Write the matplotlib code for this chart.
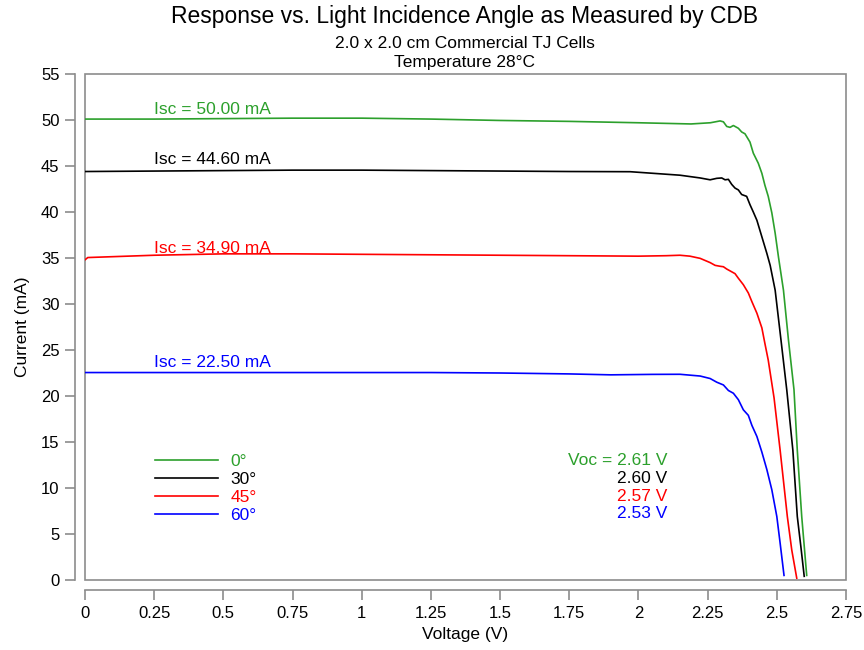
import matplotlib
matplotlib.use("Agg")
from matplotlib import pyplot as plt
from matplotlib.patches import Rectangle

plt.rcParams['font.family'] = ['Liberation Sans', 'DejaVu Sans']

# I-V curves (voltage in V, current in mA)
v_0 = [0, 0.25, 0.5, 0.75, 1.0, 1.25, 1.5, 1.75, 2.0, 2.19, 2.26, 2.295, 2.307,
       2.319, 2.331, 2.343, 2.361, 2.373, 2.385, 2.403, 2.415, 2.433, 2.446,
       2.457, 2.469, 2.482, 2.494, 2.506, 2.524, 2.542, 2.562, 2.574, 2.590, 2.608]
i_0 = [50.1, 50.1, 50.15, 50.2, 50.2, 50.1, 49.95, 49.85, 49.7, 49.57, 49.7, 49.9, 49.8,
       49.3, 49.2, 49.4, 49.1, 48.7, 48.5, 47.6, 46.4, 45.3, 44.2,
       42.9, 41.7, 39.9, 37.7, 35.1, 31.5, 26.1, 20.7, 14.1, 6.9, 0.5]

v_30 = [0, 0.25, 0.5, 0.75, 1.0, 1.25, 1.5, 1.75, 1.97, 2.15, 2.223, 2.259, 2.283,
        2.301, 2.313, 2.325, 2.337, 2.349, 2.361, 2.373, 2.391, 2.403, 2.415, 2.428,
        2.439, 2.451, 2.464, 2.476, 2.494, 2.515, 2.536, 2.558, 2.574, 2.587, 2.599]
i_30 = [44.4, 44.45, 44.5, 44.55, 44.55, 44.5, 44.45, 44.4, 44.38, 44.0, 43.7, 43.5, 43.66,
        43.7, 43.5, 43.55, 43.0, 42.6, 42.4, 41.9, 41.7, 40.8, 40.0, 39.1,
        38.0, 36.8, 35.5, 34.2, 31.5, 26.1, 20.65, 14.1, 6.9, 3.6, 0.4]

v_45 = [0, 0.01, 0.25, 0.5, 0.75, 1.0, 1.25, 1.5, 1.75, 2.0, 2.1, 2.15, 2.186, 2.223,
        2.259, 2.277, 2.295, 2.307, 2.319, 2.337, 2.349, 2.361, 2.379, 2.397, 2.410,
        2.428, 2.446, 2.457, 2.469, 2.490, 2.512, 2.538, 2.554, 2.572]
i_45 = [34.8, 35.05, 35.3, 35.45, 35.45, 35.4, 35.35, 35.3, 35.25, 35.2, 35.25, 35.3, 35.2, 34.96,
        34.5, 34.2, 34.1, 34.05, 33.8, 33.5, 33.3, 32.8, 32.1, 31.2, 30.25,
        29.0, 27.4, 25.7, 23.9, 19.8, 14.1, 6.9, 3.26, 0.2]

v_60 = [0, 0.25, 0.5, 0.75, 1.0, 1.25, 1.5, 1.75, 1.9, 2.05, 2.15, 2.223, 2.259, 2.283,
        2.307, 2.325, 2.343, 2.361, 2.379, 2.397, 2.410, 2.428, 2.446, 2.464, 2.482,
        2.500, 2.512, 2.526]
i_60 = [22.55, 22.55, 22.55, 22.55, 22.55, 22.55, 22.5, 22.4, 22.3, 22.35, 22.36, 22.17, 21.9, 21.5,
        21.2, 20.6, 20.3, 19.6, 18.5, 17.9, 16.8, 15.6, 13.9, 12.0, 9.8,
        6.9, 4.0, 0.5]

angles = ['0°', '30°', '45°', '60°']
isc = [50.00, 44.60, 34.90, 22.50]
voc = [2.61, 2.60, 2.57, 2.53]
colors = ['#2ca02c', 'black', 'red', 'blue']
curves = [(v_0, i_0), (v_30, i_30), (v_45, i_45), (v_60, i_60)]

gray = '#8c8c8c'

fig = plt.figure(figsize=(8.64, 6.5), dpi=100)
ax = fig.add_axes([85 / 864, 70 / 650, 761 / 864, 506 / 650])

for (v, i), ang, c in zip(curves, angles, colors):
    ax.plot(v, i, color=c, lw=1.2, label=ang)

for val, c in zip(isc, colors):
    ax.text(0.25, val + 1.12, f'Isc = {val:.2f} mA', color=c, fontsize=12.5,
            ha='left', va='center')

for k, (val, c) in enumerate(zip(voc, colors)):
    label = f'Voc = {val:.2f} V' if k == 0 else f'{val:.2f} V'
    ax.text(0.765, 0.237 - k * 0.0355, label, color=c, fontsize=12.5,
            ha='right', va='center', transform=ax.transAxes)

leg = ax.legend(loc='upper left', bbox_to_anchor=(0.092, 0.249), frameon=False,
                fontsize=12.5, handlelength=3.6, handletextpad=0.75,
                labelspacing=0.17, borderpad=0, borderaxespad=0,
                labelcolor='linecolor')

ax.set_xlim(0, 2.75)
ax.set_ylim(0, 55)
ax.set_xticks([0, 0.25, 0.5, 0.75, 1, 1.25, 1.5, 1.75, 2, 2.25, 2.5, 2.75])
ax.set_xticklabels(['0', '0.25', '0.5', '0.75', '1', '1.25', '1.5', '1.75',
                    '2', '2.25', '2.5', '2.75'])
ax.set_yticks(range(0, 56, 5))

# detached axes plus a box around the plotting area
for side in ['top', 'right']:
    ax.spines[side].set_visible(False)
for side in ['left', 'bottom']:
    ax.spines[side].set_position(('outward', 7.2))
    ax.spines[side].set_color(gray)
    ax.spines[side].set_linewidth(1.2)
ax.add_patch(Rectangle((0, 0), 1, 1, transform=ax.transAxes, fill=False,
                       edgecolor=gray, lw=1.2, clip_on=False))
ax.tick_params(direction='out', length=7.2, width=1.2, color=gray,
               labelsize=12, pad=4)

ax.set_xlabel('Voltage (V)', fontsize=12.5, labelpad=5)
ax.set_ylabel('Current (mA)', fontsize=12.5, labelpad=8)

fig.text(465 / 864, 1 - 17 / 650, 'Response vs. Light Incidence Angle as Measured by CDB',
         ha='center', va='center', fontsize=16.5)
fig.text(465 / 864, 1 - 43.5 / 650, '2.0 x 2.0 cm Commercial TJ Cells',
         ha='center', va='center', fontsize=12.5)
fig.text(465 / 864, 1 - 63 / 650, 'Temperature 28°C',
         ha='center', va='center', fontsize=12.5)

fig.savefig('out.png', dpi=100, facecolor='white')
